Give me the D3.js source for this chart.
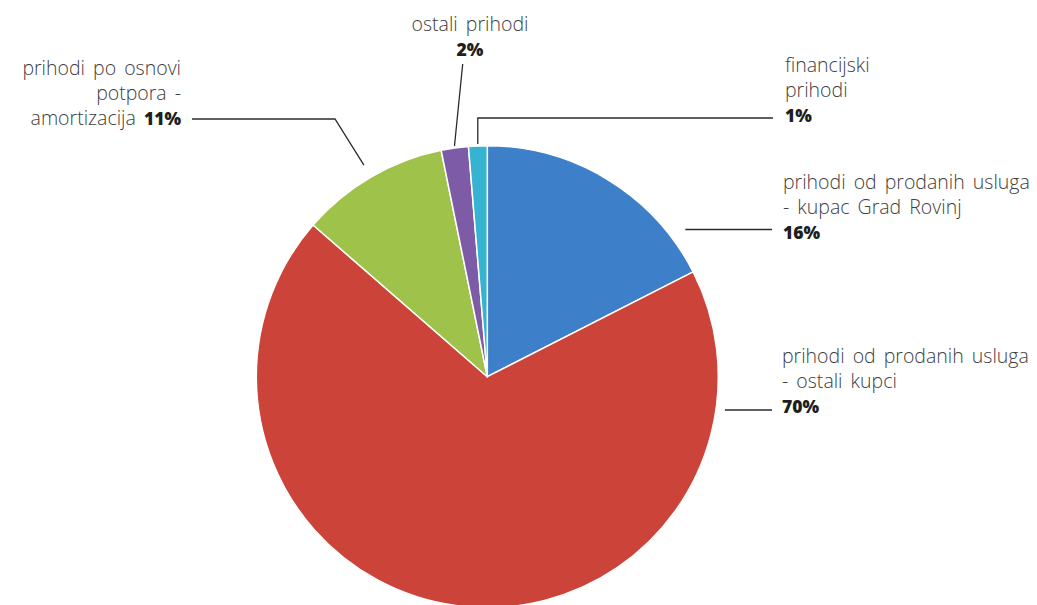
<!DOCTYPE html>
<html>
<head>
<meta charset="utf-8">
<script src="https://cdn.jsdelivr.net/npm/d3@7"></script>
<style>
  html, body { margin: 0; padding: 0; background: #fff; }
  text { font-family: "Open Sans", Lato, sans-serif; }
</style>
</head>
<body>
<svg id="chart"></svg>
<script>
// slice data (angles), clockwise from 12 o'clock
const categories = ['kupac Grad Rovinj', 'ostali kupci', 'potpora - amortizacija', 'ostali prihodi', 'financijski prihodi'];
const values = [17.5, 68.9, 10.4, 1.9, 1.3];
const pctLabels = ['16%', '70%', '11%', '2%', '1%'];
const colors = ['#3d7fc8', '#cc433a', '#9ec24a', '#7d5ba6', '#35b3d0'];

// label text lines per slice (last line gets the bold percentage)
const labelLines = [
    ['prihodi od prodanih usluga', '- kupac Grad Rovinj', ''],
    ['prihodi od prodanih usluga', '- ostali kupci', ''],
    ['prihodi po osnovi', 'potpora -', 'amortizacija '],
    ['ostali prihodi', ''],
    ['financijski', 'prihodi', '']
];

const width = 1037, height = 605;
const cx = 487.3, cy = 376.7, radius = 231;
const lineGap = 25;

const svg = d3.select('#chart')
    .attr('width', width)
    .attr('height', height);

const pie = d3.pie().sort(null).value(d => d);
const arcs = pie(values);
const arc = d3.arc().innerRadius(0).outerRadius(radius);

const g = svg.append('g').attr('transform', `translate(${cx},${cy})`);
g.selectAll('path.slice')
    .data(arcs)
    .join('path')
    .attr('class', 'slice')
    .attr('d', arc)
    .attr('fill', (d, i) => colors[i])
    .attr('stroke', '#fff')
    .attr('stroke-width', 1.5)
    .attr('stroke-linejoin', 'round');

// point on a circle of radius r at angle a (d3 pie angle, 0 = top)
const polar = (a, r) => [cx + r * Math.sin(a), cy - r * Math.cos(a)];
const mid = d => (d.startAngle + d.endAngle) / 2;
// x of the pie edge at a given y on the right side
const edgeX = (y, gap) => cx + Math.sqrt(radius * radius - (y - cy) * (y - cy)) + gap;

// label placement: x, first baseline, anchor, leader polyline
const layout = [
    { x: 783, y: 189, anchor: 'start',
      leader: d => [[edgeX(229.5, 20), 229.5], [772, 229.5]] },
    { x: 782, y: 362.5, anchor: 'start',
      leader: d => [[edgeX(410, 9), 410], [772, 410]] },
    { x: 181, y: 74.5, anchor: 'end',
      leader: d => [polar(mid(d), radius + 14), [335, 119], [192, 119]] },
    { x: 470, y: 31, anchor: 'middle',
      leader: d => [polar(mid(d), radius + 2), [462.7, 64]] },
    { x: 785, y: 71.5, anchor: 'start',
      leader: d => { const p = polar(mid(d), radius + 2); return [p, [p[0], 118], [773, 118]]; } }
];

const line = d3.line();
svg.append('g').selectAll('path')
    .data(arcs)
    .join('path')
    .attr('d', (d, i) => line(layout[i].leader(d)))
    .attr('fill', 'none')
    .attr('stroke', '#2b2b2b')
    .attr('stroke-width', 1.3);

arcs.forEach((d, i) => {
    const L = layout[i];
    const t = svg.append('text')
        .attr('text-anchor', L.anchor)
        .attr('font-size', 19.5)
        .attr('word-spacing', 3)
        .attr('fill', '#404040');
    const lines = labelLines[i];
    lines.forEach((s, j) => {
        const y = L.y + j * lineGap;
        const last = j === lines.length - 1;
        if (s !== '') {
            t.append('tspan')
                .attr('x', L.x)
                .attr('y', y)
                .attr('font-weight', 300)
                .text(s);
        }
        if (last) {
            const p = t.append('tspan')
                .attr('font-weight', 800)
                .attr('font-size', 17.5)
                .attr('fill', '#1e1e1e')
                .text(pctLabels[i]);
            if (s === '') p.attr('x', L.x).attr('y', y);
        }
    });
});
</script>
</body>
</html>
